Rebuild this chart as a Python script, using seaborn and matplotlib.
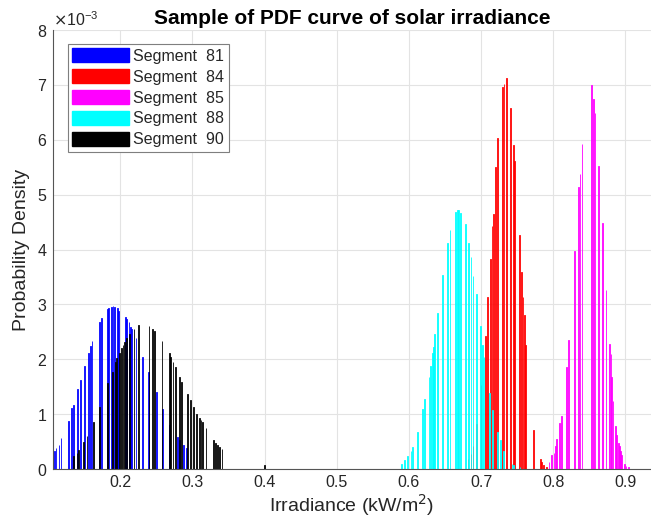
import matplotlib
matplotlib.use("Agg")
import matplotlib.pyplot as plt
from matplotlib.patches import Patch
from matplotlib.ticker import ScalarFormatter
import numpy as np
import pandas as pd
import seaborn as sns

# ---- data (heights in units of 1e-3) ----
seg_labels = ["Segment  81", "Segment  84", "Segment  85", "Segment  88", "Segment  90"]
seg_colors = ["#0000ff", "#ff0000", "#ff00ff", "#00ffff", "#000000"]

x81 = [0.107, 0.109, 0.111, 0.115, 0.118, 0.128, 0.133, 0.135, 0.141, 0.145,
       0.151, 0.156, 0.159, 0.161, 0.171, 0.174, 0.182, 0.184, 0.188, 0.190,
       0.192, 0.196, 0.198, 0.207, 0.209, 0.212, 0.214, 0.216, 0.222, 0.231,
       0.239, 0.250, 0.259, 0.268, 0.279, 0.282, 0.288, 0.292]
h81 = [0.29, 0.32, 0.38, 0.44, 0.56, 0.88, 1.12, 1.17, 1.45, 1.63,
       1.88, 2.12, 2.25, 2.33, 2.67, 2.76, 2.91, 2.93, 2.96, 2.97,
       2.96, 2.93, 2.88, 2.77, 2.73, 2.68, 2.59, 2.56, 2.38, 2.05,
       1.76, 1.40, 1.09, 0.80, 0.59, 0.53, 0.44, 0.38]

x84 = [0.682, 0.686, 0.689, 0.694, 0.700, 0.706, 0.709, 0.713, 0.715, 0.717,
       0.720, 0.723, 0.730, 0.732, 0.735, 0.741, 0.745, 0.746, 0.753, 0.756,
       0.758, 0.760, 0.762, 0.773, 0.782, 0.784, 0.787, 0.791]
h84 = [0.19, 0.28, 0.42, 0.82, 1.53, 2.42, 3.13, 3.82, 4.43, 4.64,
       5.50, 6.04, 6.96, 7.02, 7.12, 6.57, 5.90, 5.62, 4.26, 3.59,
       3.13, 2.81, 2.26, 0.71, 0.18, 0.13, 0.07, 0.04]

x85 = [0.794, 0.798, 0.801, 0.803, 0.805, 0.809, 0.811, 0.818, 0.821, 0.829,
       0.835, 0.837, 0.840, 0.853, 0.856, 0.858, 0.863, 0.868, 0.873, 0.878,
       0.880, 0.881, 0.883, 0.886, 0.888, 0.890, 0.892, 0.893, 0.895, 0.899,
       0.901, 0.904]
h85 = [0.13, 0.25, 0.30, 0.42, 0.54, 0.83, 0.97, 1.86, 2.36, 3.97,
       5.14, 5.37, 5.92, 6.99, 6.75, 6.49, 5.53, 4.49, 3.26, 2.28,
       2.09, 1.68, 1.24, 0.78, 0.62, 0.47, 0.42, 0.32, 0.25, 0.10,
       0.05, 0.03]

x88 = [0.590, 0.594, 0.598, 0.603, 0.605, 0.612, 0.619, 0.622, 0.628, 0.630,
       0.633, 0.634, 0.636, 0.640, 0.647, 0.654, 0.657, 0.665, 0.667, 0.669,
       0.672, 0.678, 0.683, 0.686, 0.689, 0.694, 0.699, 0.702, 0.704, 0.712,
       0.716, 0.723, 0.727, 0.731, 0.743, 0.745, 0.754]
h88 = [0.10, 0.16, 0.24, 0.33, 0.41, 0.68, 1.09, 1.27, 1.68, 1.88,
       2.11, 2.23, 2.46, 2.84, 3.54, 4.11, 4.35, 4.69, 4.72, 4.72,
       4.67, 4.46, 4.11, 3.87, 3.52, 3.19, 2.60, 2.26, 2.05, 1.38,
       1.07, 0.68, 0.53, 0.32, 0.10, 0.07, 0.04]

x90 = [0.135, 0.140, 0.142, 0.149, 0.154, 0.163, 0.171, 0.182, 0.189, 0.193,
       0.195, 0.199, 0.202, 0.204, 0.206, 0.209, 0.213, 0.219, 0.225, 0.240,
       0.245, 0.248, 0.258, 0.268, 0.270, 0.273, 0.277, 0.282, 0.285, 0.293,
       0.297, 0.302, 0.306, 0.310, 0.312, 0.314, 0.319, 0.329, 0.332, 0.335,
       0.338, 0.341, 0.400]
h90 = [0.23, 0.30, 0.35, 0.50, 0.60, 0.86, 1.13, 1.56, 1.77, 1.95,
       2.02, 2.11, 2.20, 2.26, 2.32, 2.38, 2.46, 2.56, 2.62, 2.61,
       2.56, 2.52, 2.34, 2.11, 2.05, 1.95, 1.86, 1.67, 1.59, 1.37,
       1.26, 1.13, 1.01, 0.93, 0.90, 0.86, 0.74, 0.53, 0.47, 0.44,
       0.40, 0.37, 0.08]

xticks = [0.2, 0.3, 0.4, 0.5, 0.6, 0.7, 0.8, 0.9]
yticks_e3 = [0, 1, 2, 3, 4, 5, 6, 7, 8]

segments = [(x81, h81), (x84, h84), (x85, h85), (x88, h88), (x90, h90)]

# ---- style ----
sns.set_theme(style="whitegrid")
plt.rcParams["font.family"] = ["Liberation Sans", "DejaVu Sans"]

fig = plt.figure(figsize=(6.51, 5.32), dpi=100)
ax = fig.add_axes([0.081, 0.1184, 0.919, 0.8252])

BW = 0.001
for (xs, hs), col in zip(segments, seg_colors):
    df = pd.DataFrame({"x": xs, "h": np.asarray(hs) * 1e-3})
    lo = min(xs) - BW / 2
    hi = max(xs) + BW / 2
    sns.histplot(data=df, x="x", weights="h", binwidth=BW, binrange=(lo, hi),
                 color=col, alpha=0.75, edgecolor=col, linewidth=0.6, ax=ax)

# drop empty bins so they draw nothing
for p in list(ax.patches):
    if p.get_height() <= 1e-12:
        p.remove()

ax.set_xlim(0.1065, 0.9355)
ax.set_ylim(0, 8e-3)
ax.set_xticks(xticks)
ax.set_xticklabels([f"{t:g}" for t in xticks])
ax.set_yticks([v * 1e-3 for v in yticks_e3])
fmt = ScalarFormatter(useMathText=True)
fmt.set_powerlimits((0, 0))
ax.yaxis.set_major_formatter(fmt)
ax.yaxis.get_offset_text().set_fontsize(11.5)
ax.yaxis.get_offset_text().set_color("#262626")

ax.tick_params(axis="both", direction="in", length=3, width=0.6,
               labelsize=11.5, labelcolor="#262626", color="#555555", pad=4)
ax.grid(True, color="#e3e3e3", linewidth=0.8)
ax.set_axisbelow(True)
for s in ["top", "right"]:
    ax.spines[s].set_visible(False)
for s in ["left", "bottom"]:
    ax.spines[s].set_color("#555555")
    ax.spines[s].set_linewidth(0.8)

ax.set_title("Sample of PDF curve of solar irradiance", fontsize=15,
             fontweight="bold", color="#000000", pad=4)
ax.set_xlabel("Irradiance (kW/m$^2$)", fontsize=14, color="#262626", labelpad=2)
ax.set_ylabel("Probability Density", fontsize=14, color="#262626", labelpad=5)

handles = [Patch(facecolor=c, edgecolor=c, label=l) for c, l in zip(seg_colors, seg_labels)]
leg = ax.legend(handles=handles, loc="upper left", bbox_to_anchor=(0.025, 0.969),
                borderaxespad=0, fontsize=11.5, handlelength=3.55, handleheight=0.98,
                labelspacing=0.33, borderpad=0.3, handletextpad=0.25,
                fancybox=False, framealpha=1, edgecolor="#7f7f7f")
leg.get_frame().set_linewidth(0.8)

fig.savefig("out.png", dpi=100)
